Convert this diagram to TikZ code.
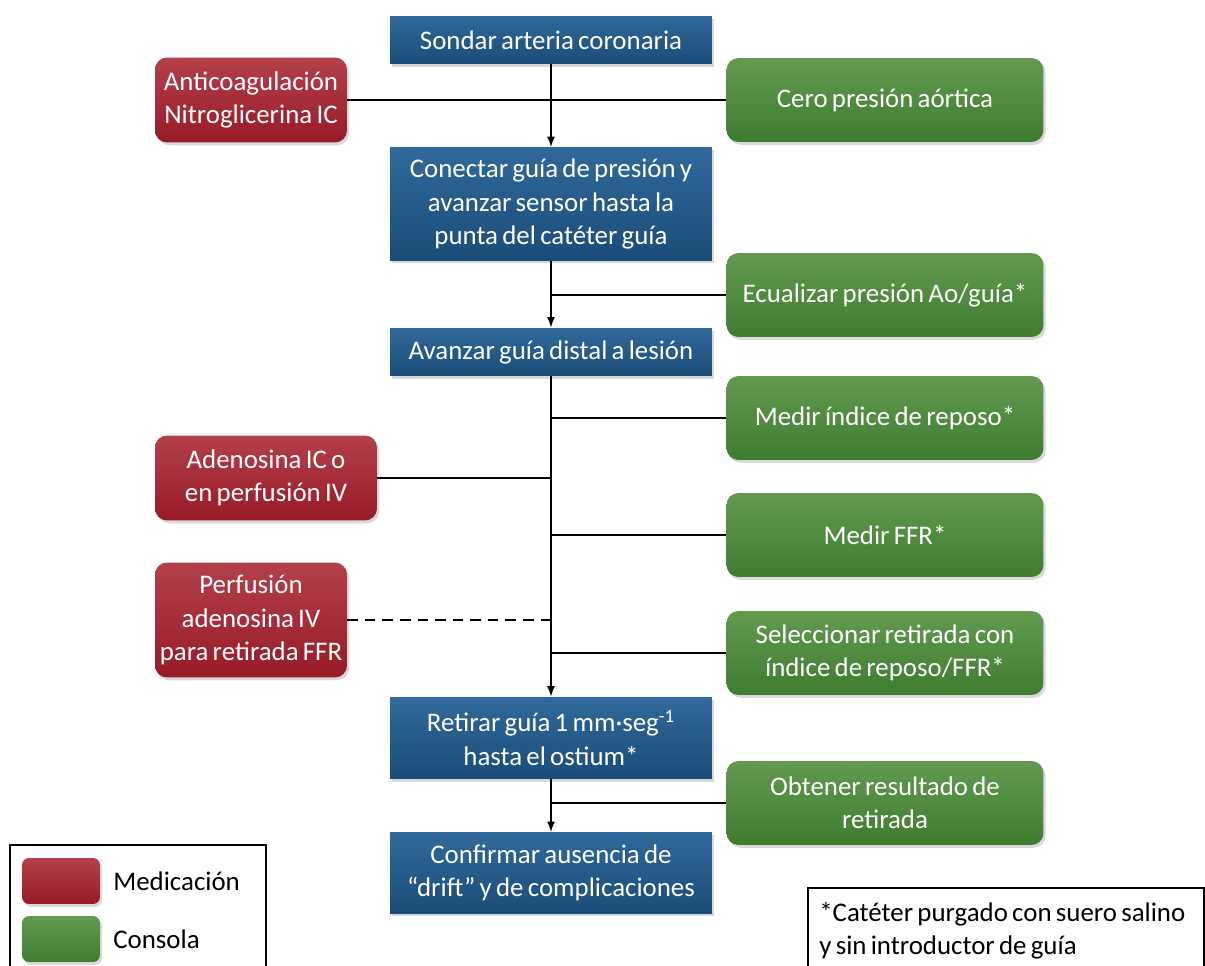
\documentclass[tikz,border=0pt]{standalone}
\usepackage{fontspec}
\setmainfont{Carlito}[WordSpace=0.7]
\usepackage{xcolor}
\usetikzlibrary{shadows,arrows.meta}

\definecolor{azulA}{HTML}{30699A}
\definecolor{azulB}{HTML}{1B4C78}
\definecolor{rojoA}{HTML}{B3404B}
\definecolor{rojoB}{HTML}{981A27}
\definecolor{verdeA}{HTML}{629A50}
\definecolor{verdeB}{HTML}{3E7C30}

\begin{document}
\begin{tikzpicture}[x=0.02cm,y=-0.02cm,
    txt/.style = {font=\fontsize{15.3}{19}\selectfont, align=center, text=white, inner sep=0pt},
    sombra/.style = {drop shadow={opacity=0.3, shadow xshift=1.2pt, shadow yshift=-1.6pt}},
    paso/.style = {txt, sombra, rectangle, top color=azulA, bottom color=azulB, minimum width=6.44cm},
    medic/.style = {txt, sombra, rectangle, rounded corners=0.24cm, top color=rojoA, bottom color=rojoB, minimum height=1.7cm},
    consola/.style = {txt, sombra, rectangle, rounded corners=0.24cm, top color=verdeA, bottom color=verdeB, minimum width=6.34cm, minimum height=1.68cm},
    flecha/.style = {-{Latex[length=6pt,width=4.5pt]}, line width=0.9pt},
    linea/.style = {line width=0.9pt}]

    \useasboundingbox (0,0) rectangle (1205,966);

    % pasos
    \node [paso, minimum height=0.96cm] (p1) at (551,40) {Sondar arteria coronaria};
    \node [paso, minimum height=2.26cm] (p2) at (551,204) {Conectar guía de presión y\\avanzar sensor hasta la\\punta del catéter guía};
    \node [paso, minimum height=0.96cm] (p3) at (551,352) {Avanzar guía distal a lesión};
    \node [paso, minimum height=1.64cm] (p4) at (551,738) {Retirar guía 1 mm·seg\textsuperscript{-1}\\hasta el ostium*};
    \node [paso, minimum height=1.62cm] (p5) at (551,873) {Confirmar ausencia de\\“drift” y de complicaciones};

    % medicacion
    \node [medic, minimum width=3.84cm] (m1) at (251,100) {Anticoagulación\\Nitroglicerina IC};
    \node [medic, minimum width=4.44cm] (m2) at (266,478) {Adenosina IC o\\en perfusión IV};
    \node [medic, minimum width=3.84cm, minimum height=2.3cm] (m3) at (251,620) {Perfusión\\adenosina IV\\para retirada FFR};

    % consola
    \node [consola] (c1) at (885,100) {Cero presión aórtica};
    \node [consola] (c2) at (885,295) {Ecualizar presión Ao/guía*};
    \node [consola] (c3) at (885,418) {Medir índice de reposo*};
    \node [consola] (c4) at (885,535) {Medir FFR*};
    \node [consola] (c5) at (885,653) {Seleccionar retirada con\\índice de reposo/FFR*};
    \node [consola] (c6) at (885,803) {Obtener resultado de\\retirada};

    % tronco
    \draw [flecha] (p1) -- (p2);
    \draw [flecha] (p2) -- (p3);
    \draw [flecha] (p3) -- (p4);
    \draw [flecha] (p4) -- (p5);

    % ramas
    \draw [linea] (m1) -- (c1);
    \draw [linea] (c2.west) -- (c2.west -| p2.south);
    \draw [linea] (c3.west) -- (c3.west -| p3.south);
    \draw [linea] (m2.east) -- (m2.east -| p3.south);
    \draw [linea] (c4.west) -- (c4.west -| p3.south);
    \draw [linea, dashed, dash pattern=on 6pt off 4pt] (m3.east) -- (m3.east -| p3.south);
    \draw [linea] (c5.west) -- (c5.west -| p3.south);
    \draw [linea] (c6.west) -- (c6.west -| p4.south);

    % leyenda
    \draw [line width=0.8pt] (10,970) -- (10,845) -- (266,845) -- (266,970);
    \node [medic, minimum width=1.56cm, minimum height=0.92cm, rounded corners=0.14cm] (lm) at (61,881) {};
    \node [consola, minimum width=1.56cm, minimum height=0.92cm, rounded corners=0.14cm] (lc) at (61,939) {};
    \node [txt, text=black, anchor=west] (lmt) at (113,881) {Medicación};
    \node [txt, text=black, anchor=west] (lct) at (113,939) {Consola};

    % nota
    \draw [line width=0.8pt] (808,970) -- (808,888) -- (1204,888) -- (1204,970);
    \node [txt, text=black, align=left, anchor=north west] (nota) at (819,902) {*Catéter purgado con suero salino\\y sin introductor de guía};

\end{tikzpicture}
\end{document}
